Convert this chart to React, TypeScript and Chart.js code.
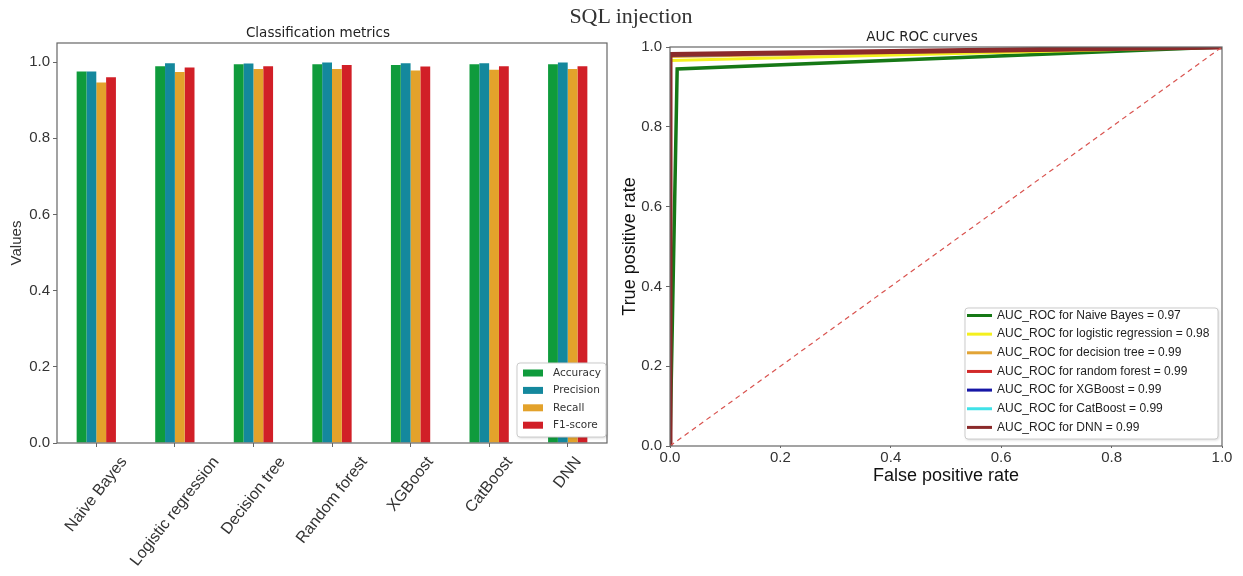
import React, { useEffect, useRef } from "react";
import { Chart, registerables } from "chart.js";

Chart.register(...registerables);

// ---------- Data: classification metrics ----------
const models = ["Naive Bayes", "Logistic regression", "Decision tree", "Random forest", "XGBoost", "CatBoost", "DNN"];
const accuracy = [0.975, 0.989, 0.994, 0.994, 0.992, 0.994, 0.994];
const precision = [0.975, 0.997, 0.996, 0.999, 0.997, 0.997, 0.999];
const recall = [0.946, 0.974, 0.982, 0.982, 0.978, 0.98, 0.982];
const f1score = [0.96, 0.986, 0.989, 0.992, 0.988, 0.989, 0.989];
const metricLabels = ["Accuracy", "Precision", "Recall", "F1-score"];
const metricColors = ["#0f9b3c", "#14889d", "#e3a22b", "#d11f27"];
const valueTicks = [0, 0.2, 0.4, 0.6, 0.8, 1.0];

// ---------- Data: ROC curves ----------
const rocNames = ["Naive Bayes", "logistic regression", "decision tree", "random forest", "XGBoost", "CatBoost", "DNN"];
const rocAuc = [0.97, 0.98, 0.99, 0.99, 0.99, 0.99, 0.99];
const rocColors = ["#167816", "#f4f01e", "#e2a436", "#d22a2a", "#1616a6", "#40e2e8", "#8b2a2a"];
const rocWidths = [3.5, 3, 3, 3, 3, 3, 5];
const fprNaiveBayes = [0, 0.013, 1];
const tprNaiveBayes = [0, 0.945, 1];
const fprLogistic = [0, 0, 1];
const tprLogistic = [0, 0.966, 1];
const fprDecisionTree = [0, 0, 1];
const tprDecisionTree = [0, 0.976, 1];
const fprRandomForest = [0, 0, 1];
const tprRandomForest = [0, 0.979, 1];
const fprXGBoost = [0, 0, 1];
const tprXGBoost = [0, 0.98, 1];
const fprCatBoost = [0, 0, 1];
const tprCatBoost = [0, 0.979, 1];
const fprDNN = [0, 0, 1];
const tprDNN = [0, 0.981, 1];
const chanceLine = [0, 1];
const rateTicks = [0, 0.2, 0.4, 0.6, 0.8, 1.0];

const rocFpr = [fprNaiveBayes, fprLogistic, fprDecisionTree, fprRandomForest, fprXGBoost, fprCatBoost, fprDNN];
const rocTpr = [tprNaiveBayes, tprLogistic, tprDecisionTree, tprRandomForest, tprXGBoost, tprCatBoost, tprDNN];

// ---------- Plugins ----------
const framePlugin = {
  id: "frame",
  afterDatasetsDraw(chart: any, _a: any, o: any) {
    const { ctx, chartArea: a } = chart;
    ctx.save();
    ctx.strokeStyle = o.color;
    ctx.lineWidth = o.width;
    ctx.strokeRect(a.left, a.top, a.right - a.left, a.bottom - a.top);
    ctx.restore();
  },
};

const panelTitlePlugin = {
  id: "panelTitle",
  afterDraw(chart: any, _a: any, o: any) {
    const ctx = chart.ctx;
    ctx.save();
    ctx.font = o.font;
    ctx.fillStyle = o.color;
    ctx.textAlign = "center";
    ctx.textBaseline = "alphabetic";
    ctx.fillText(o.text, o.x, o.y);
    ctx.restore();
  },
};

const rotatedLabelsPlugin = {
  id: "rotatedLabels",
  afterDraw(chart: any, _a: any, o: any) {
    if (!o || !o.enabled) return;
    const ctx = chart.ctx;
    const xs = chart.scales.x;
    const th = (o.angle * Math.PI) / 180;
    ctx.save();
    ctx.font = `${o.size}px ${o.family}`;
    ctx.fillStyle = o.color;
    ctx.textAlign = "center";
    ctx.textBaseline = "middle";
    (chart.data.labels as string[]).forEach((lab, i) => {
      const x = xs.getPixelForTick(i);
      const w = ctx.measureText(lab).width;
      const hgt = w * Math.sin(th) + o.size * Math.cos(th);
      ctx.save();
      ctx.translate(x, chart.chartArea.bottom + o.gap + hgt / 2);
      ctx.rotate(-th);
      ctx.fillText(lab, 0, 0);
      ctx.restore();
    });
    ctx.restore();
  },
};

const boxLegendPlugin = {
  id: "boxLegend",
  afterDraw(chart: any, _a: any, o: any) {
    if (!o || !o.enabled) return;
    const { ctx, chartArea: a } = chart;
    const x0 = a.right - o.right - o.width;
    const y0 = a.bottom - o.bottom - o.height;
    ctx.save();
    ctx.shadowColor = "rgba(0,0,0,0.18)";
    ctx.shadowBlur = 3;
    ctx.shadowOffsetX = 1;
    ctx.shadowOffsetY = 1;
    ctx.beginPath();
    ctx.roundRect(x0, y0, o.width, o.height, 3);
    ctx.fillStyle = "#ffffff";
    ctx.fill();
    ctx.shadowColor = "transparent";
    ctx.strokeStyle = "#cccccc";
    ctx.lineWidth = 1;
    ctx.stroke();
    ctx.font = o.font;
    ctx.textAlign = "left";
    ctx.textBaseline = "middle";
    let row = 0;
    chart.data.datasets.forEach((ds: any) => {
      if (!ds.label) return;
      const cy = y0 + o.firstRow + row * o.rowGap;
      if (o.kind === "patch") {
        ctx.fillStyle = ds.backgroundColor;
        ctx.fillRect(x0 + o.markX, cy - o.markH / 2, o.markW, o.markH);
      } else {
        ctx.strokeStyle = ds.borderColor;
        ctx.lineWidth = o.markH;
        ctx.beginPath();
        ctx.moveTo(x0 + o.markX, cy);
        ctx.lineTo(x0 + o.markX + o.markW, cy);
        ctx.stroke();
      }
      ctx.fillStyle = o.color;
      ctx.fillText(ds.label, x0 + o.textX, cy);
      row++;
    });
    ctx.restore();
  },
};

const AXIS_COLOR = "#666666";
const TICK_COLOR = "#333333";

function MetricsChart() {
  const ref = useRef<HTMLCanvasElement | null>(null);
  useEffect(() => {
    const series = [accuracy, precision, recall, f1score];
    const chart = new Chart(ref.current as HTMLCanvasElement, {
      type: "bar",
      data: {
        labels: models,
        datasets: series.map((vals, i) => ({
          label: metricLabels[i],
          data: vals,
          backgroundColor: metricColors[i],
          borderWidth: 0,
          categoryPercentage: 0.5,
          barPercentage: 1.0,
        })),
      },
      plugins: [framePlugin, panelTitlePlugin, rotatedLabelsPlugin, boxLegendPlugin],
      options: {
        responsive: false,
        animation: false,
        layout: { padding: { top: 43, right: 13, bottom: 0, left: 0 } },
        scales: {
          x: {
            type: "category",
            offset: true,
            grid: { display: true, drawOnChartArea: false, offset: false, drawTicks: true, tickLength: 4, color: AXIS_COLOR },
            border: { display: false },
            ticks: { display: false },
            afterFit: (s: any) => {
              s.height = 133;
            },
          },
          y: {
            min: 0,
            max: 1.05,
            grid: { display: true, drawOnChartArea: false, drawTicks: true, tickLength: 4, color: AXIS_COLOR },
            border: { display: false },
            afterBuildTicks: (s: any) => {
              s.ticks = valueTicks.map((v) => ({ value: v }));
            },
            ticks: {
              padding: 3,
              color: TICK_COLOR,
              font: { family: "'Liberation Sans'", size: 15 },
              callback: (v: any) => Number(v).toFixed(1),
            },
            title: {
              display: true,
              text: "Values",
              color: TICK_COLOR,
              font: { family: "'Liberation Sans'", size: 15 },
              padding: { top: 8, bottom: 0 },
            },
            afterFit: (s: any) => {
              s.width = 57;
            },
          },
        },
        plugins: {
          legend: { display: false },
          tooltip: { enabled: false },
          title: { display: false },
          frame: { color: AXIS_COLOR, width: 1.2 },
          panelTitle: { text: "Classification metrics", x: 318, y: 36.5, font: "13.5px 'DejaVu Sans'", color: "#222222" },
          rotatedLabels: { enabled: true, size: 16, family: "'Liberation Sans'", color: TICK_COLOR, gap: 11, angle: 52 },
          boxLegend: {
            enabled: true,
            kind: "patch",
            right: 1,
            bottom: 6,
            width: 89,
            height: 74,
            firstRow: 10,
            rowGap: 17.4,
            markX: 6,
            markW: 20,
            markH: 7,
            textX: 36,
            font: "10.5px 'DejaVu Sans'",
            color: "#333333",
          },
        } as any,
      },
    } as any);
    return () => chart.destroy();
  }, []);
  return <canvas ref={ref} width={620} height={576} style={{ position: "absolute", left: 0, top: 0 }} />;
}

function RocChart() {
  const ref = useRef<HTMLCanvasElement | null>(null);
  useEffect(() => {
    const n = rocNames.length;
    const datasets: any[] = rocNames.map((name, i) => ({
      label: `AUC_ROC for ${name} = ${rocAuc[i].toFixed(2)}`,
      data: rocFpr[i].map((x, j) => ({ x, y: rocTpr[i][j] })),
      borderColor: rocColors[i],
      backgroundColor: rocColors[i],
      borderWidth: rocWidths[i],
      pointRadius: 0,
      showLine: true,
      fill: false,
      tension: 0,
      order: n - i + 1,
    }));
    datasets.push({
      label: "",
      data: chanceLine.map((v) => ({ x: v, y: v })),
      borderColor: "#d9534f",
      borderWidth: 1.2,
      borderDash: [5, 4],
      pointRadius: 0,
      showLine: true,
      fill: false,
      order: 0,
    });
    const chart = new Chart(ref.current as HTMLCanvasElement, {
      type: "scatter",
      data: { datasets },
      plugins: [framePlugin, panelTitlePlugin, boxLegendPlugin],
      options: {
        responsive: false,
        animation: false,
        layout: { padding: { top: 47, right: 21, bottom: 0, left: 0 } },
        scales: {
          x: {
            type: "linear",
            min: 0,
            max: 1,
            grid: { display: true, drawOnChartArea: false, drawTicks: true, tickLength: 2, color: AXIS_COLOR },
            border: { display: false },
            afterBuildTicks: (s: any) => {
              s.ticks = rateTicks.map((v) => ({ value: v }));
            },
            ticks: {
              padding: 1,
              maxRotation: 0,
              color: TICK_COLOR,
              font: { family: "'Liberation Sans'", size: 15 },
              callback: (v: any) => Number(v).toFixed(1),
            },
            title: {
              display: true,
              text: "False positive rate",
              color: "#111111",
              font: { family: "'Liberation Sans'", size: 18 },
              padding: { top: 0, bottom: 89 },
            },
            afterFit: (s: any) => {
              s.height = 130;
            },
          },
          y: {
            type: "linear",
            min: 0,
            max: 1,
            grid: { display: true, drawOnChartArea: false, drawTicks: true, tickLength: 4, color: AXIS_COLOR },
            border: { display: false },
            afterBuildTicks: (s: any) => {
              s.ticks = rateTicks.map((v) => ({ value: v }));
            },
            ticks: {
              padding: 4,
              color: TICK_COLOR,
              font: { family: "'Liberation Sans'", size: 15 },
              callback: (v: any) => Number(v).toFixed(1),
            },
            title: {
              display: true,
              text: "True positive rate",
              color: "#111111",
              font: { family: "'Liberation Sans'", size: 18 },
              padding: { top: -1, bottom: 0 },
            },
            afterFit: (s: any) => {
              s.width = 50;
            },
          },
        },
        plugins: {
          legend: { display: false },
          tooltip: { enabled: false },
          title: { display: false },
          frame: { color: AXIS_COLOR, width: 1.2 },
          panelTitle: { text: "AUC ROC curves", x: 302, y: 41, font: "13.5px 'DejaVu Sans'", color: "#222222" },
          boxLegend: {
            enabled: true,
            kind: "line",
            right: 4,
            bottom: 7,
            width: 253,
            height: 131,
            firstRow: 7.5,
            rowGap: 18.65,
            markX: 2,
            markW: 25,
            markH: 3,
            textX: 32,
            font: "12px 'Liberation Sans'",
            color: "#222222",
          },
        } as any,
      },
    } as any);
    return () => chart.destroy();
  }, []);
  return <canvas ref={ref} width={623} height={576} style={{ position: "absolute", left: 620, top: 0 }} />;
}

export default function App() {
  return (
    <div style={{ position: "absolute", left: 0, top: 0, width: 1243, height: 576, background: "#ffffff", overflow: "hidden" }}>
      <MetricsChart />
      <RocChart />
      <div
        style={{
          position: "absolute",
          left: 631,
          top: 5,
          transform: "translateX(-50%)",
          whiteSpace: "nowrap",
          fontFamily: "'Liberation Serif', serif",
          fontSize: 22,
          lineHeight: "22px",
          color: "#333333",
          zIndex: 2,
        }}
      >
        SQL injection
      </div>
    </div>
  );
}
